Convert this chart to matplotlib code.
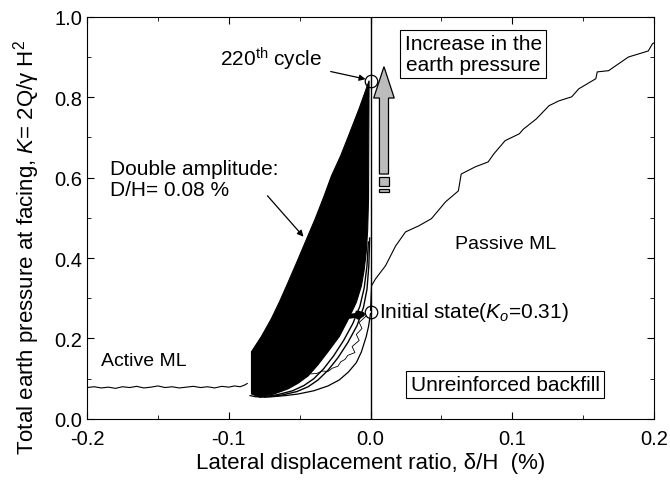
import numpy as np
import matplotlib
matplotlib.use("Agg")
import matplotlib.pyplot as plt
from matplotlib.patches import FancyArrow, Rectangle
from matplotlib.ticker import MultipleLocator

plt.rcParams['font.family'] = ['Liberation Sans', 'DejaVu Sans']
plt.rcParams['mathtext.fontset'] = 'custom'
plt.rcParams['mathtext.it'] = 'Liberation Sans:italic'
plt.rcParams['mathtext.rm'] = 'Liberation Sans'

# Active ML branch (monotonic loading toward active side)
active_x = [-0.200, -0.195, -0.190, -0.185, -0.180, -0.175, -0.170, -0.165, -0.160,
            -0.155, -0.150, -0.145, -0.140, -0.135, -0.130, -0.125, -0.120, -0.115,
            -0.110, -0.105, -0.100, -0.096, -0.092, -0.089, -0.087]
active_y = [0.078, 0.080, 0.077, 0.079, 0.076, 0.080, 0.078, 0.081, 0.077,
            0.079, 0.082, 0.078, 0.080, 0.077, 0.079, 0.081, 0.078, 0.080,
            0.077, 0.081, 0.079, 0.082, 0.080, 0.084, 0.088]

# Passive ML branch
passive_x = [0.000, 0.0007, 0.0035, 0.0106, 0.0177, 0.0247, 0.034, 0.043, 0.053,
             0.062, 0.064, 0.074, 0.083, 0.087, 0.095, 0.105, 0.108, 0.117,
             0.126, 0.133, 0.142, 0.147, 0.159, 0.160, 0.168, 0.182, 0.196, 0.199, 0.200]
passive_y = [0.270, 0.331, 0.348, 0.381, 0.430, 0.465, 0.480, 0.498, 0.540,
             0.567, 0.609, 0.627, 0.639, 0.659, 0.692, 0.709, 0.721, 0.746,
             0.779, 0.791, 0.801, 0.821, 0.846, 0.863, 0.866, 0.900, 0.915, 0.933, 0.935]

# Cyclic loops (220 cycles) - envelope of the filled region
loop_upper_x = [-0.084, -0.077, -0.070, -0.064, -0.058, -0.052, -0.046, -0.039,
                -0.033, -0.0276, -0.021, -0.0155, -0.008, -0.001]
loop_upper_y = [0.167, 0.205, 0.249, 0.293, 0.341, 0.390, 0.440, 0.498,
                0.552, 0.604, 0.655, 0.704, 0.772, 0.841]
loop_lower_x = [-0.001, -0.0012, -0.0014, -0.002, -0.003, -0.0045, -0.0064, -0.010,
                -0.0155, -0.022, -0.030, -0.037, -0.044, -0.051, -0.058, -0.068,
                -0.079, -0.084]
loop_lower_y = [0.841, 0.700, 0.547, 0.470, 0.415, 0.370, 0.331, 0.290,
                0.249, 0.205, 0.167, 0.135, 0.107, 0.089, 0.075, 0.062,
                0.055, 0.062]

# individual early loop branches
loop1_x = [-0.078, -0.066, -0.055, -0.047, -0.040, -0.033, -0.026, -0.019, -0.0125,
           -0.0075, -0.0045, -0.0025, -0.0015]
loop1_y = [0.054, 0.060, 0.070, 0.083, 0.100, 0.125, 0.157, 0.195, 0.237,
           0.280, 0.325, 0.380, 0.440]
loop2_x = [-0.075, -0.063, -0.052, -0.044, -0.037, -0.030, -0.023, -0.016, -0.0095,
           -0.005, -0.0025, -0.0012, -0.0006]
loop2_y = [0.054, 0.059, 0.068, 0.080, 0.097, 0.121, 0.152, 0.190, 0.232,
           0.277, 0.322, 0.380, 0.450]
outer_x = [0.0, -0.0005, -0.0014, -0.003, -0.0064, -0.010, -0.0155, -0.022, -0.030,
           -0.040, -0.051, -0.060, -0.070, -0.081, -0.085]
outer_y = [0.262, 0.250, 0.230, 0.205, 0.167, 0.140, 0.117, 0.097, 0.082,
           0.070, 0.062, 0.058, 0.055, 0.055, 0.058]

# first unloading from initial state (jagged)
first_x = [-0.003, -0.008, -0.006, -0.010, -0.008, -0.013, -0.011, -0.016, -0.018,
           -0.021, -0.023, -0.027, -0.030, -0.034, -0.038, -0.042]
first_y = [0.256, 0.240, 0.225, 0.210, 0.195, 0.180, 0.165, 0.158, 0.148,
           0.142, 0.131, 0.126, 0.118, 0.119, 0.113, 0.112]

peak = (0.0, 0.84)
initial = (0.0, 0.266)

fig = plt.figure(figsize=(6.70, 4.81), dpi=100)
ax = fig.add_axes([0.13, 0.127, 0.846, 0.836])

ax.plot(active_x, active_y, color='black', lw=0.8)
ax.plot(passive_x, passive_y, color='black', lw=0.8)

poly_x = np.concatenate([loop_upper_x, loop_lower_x])
poly_y = np.concatenate([loop_upper_y, loop_lower_y])
ax.fill(poly_x, poly_y, color='black', lw=0.8)
ax.plot(loop1_x, loop1_y, color='black', lw=1.0)
ax.plot(loop2_x, loop2_y, color='black', lw=1.0)
ax.plot(outer_x, outer_y, color='black', lw=0.9)
ax.plot(first_x, first_y, color='black', lw=0.6)

ax.axvline(0, color='black', lw=1.0)

# thick arrow toward initial state
ax.annotate('', xy=(-0.002, 0.262), xytext=(-0.015, 0.255),
            arrowprops=dict(arrowstyle='-|>', color='black', lw=3.5, mutation_scale=8,
                            shrinkA=0, shrinkB=0))

ax.plot(*peak, 'o', ms=9, mfc='none', mec='black', mew=0.9)
ax.plot(*initial, 'o', ms=9, mfc='none', mec='black', mew=0.9)

# gray arrow: increase in earth pressure
ax.add_patch(FancyArrow(0.0095, 0.609, 0, 0.267, width=0.0064, head_width=0.0145,
                        head_length=0.078, length_includes_head=True,
                        facecolor='#bcbcbc', edgecolor='black', lw=0.9))
ax.add_patch(Rectangle((0.0063, 0.580), 0.0064, 0.022, facecolor='#bcbcbc',
                       edgecolor='black', lw=0.9))
ax.add_patch(Rectangle((0.0063, 0.565), 0.0064, 0.007, facecolor='#bcbcbc',
                       edgecolor='black', lw=0.9))

box = dict(boxstyle='square,pad=0.2', facecolor='white', edgecolor='black', lw=0.8)
ax.text(0.0724, 0.907, 'Increase in the\nearth pressure', fontsize=15,
        ha='center', va='center', bbox=box, linespacing=1.1)
ax.text(0.095, 0.085, 'Unreinforced backfill', fontsize=15,
        ha='center', va='center', bbox=box)

ax.text(0.095, 0.435, 'Passive ML', fontsize=14, ha='center', va='center')
ax.text(-0.190, 0.145, 'Active ML', fontsize=14, ha='left', va='center')
ax.text(0.006, 0.266, 'Initial state($K_o$=0.31)', fontsize=15, ha='left', va='center')

ax.annotate('220$^{\\rm th}$ cycle', xy=(-0.0035, 0.845), xytext=(-0.106, 0.896),
            fontsize=15, ha='left', va='center',
            arrowprops=dict(arrowstyle='-|>', color='black', lw=0.9,
                            shrinkA=4, shrinkB=0, mutation_scale=9))
ax.text(-0.184, 0.597, 'Double amplitude:\nD/H= 0.08 %', fontsize=15,
        ha='left', va='center', linespacing=1.15)
ax.annotate('', xy=(-0.046, 0.448), xytext=(-0.074, 0.560),
            arrowprops=dict(arrowstyle='-|>', color='black', lw=0.9, mutation_scale=9))

ax.set_xlim(-0.2, 0.2)
ax.set_ylim(0.0, 1.0)
ax.xaxis.set_major_locator(MultipleLocator(0.1))
ax.xaxis.set_minor_locator(MultipleLocator(0.05))
ax.yaxis.set_major_locator(MultipleLocator(0.2))
ax.yaxis.set_minor_locator(MultipleLocator(0.1))
ax.tick_params(which='both', direction='in', top=True, right=True, labelsize=14.5)
ax.tick_params(which='major', length=5)
ax.tick_params(which='minor', length=3)
ax.tick_params(axis='x', pad=7)
ax.set_xticks([-0.2, -0.1, 0.0, 0.1, 0.2])
ax.set_xticklabels(['-0.2', '-0.1', '0.0', '0.1', '0.2'])
ax.set_yticks([0.0, 0.2, 0.4, 0.6, 0.8, 1.0])
ax.set_yticklabels(['0.0', '0.2', '0.4', '0.6', '0.8', '1.0'])

ax.set_xlabel('Lateral displacement ratio, δ/H  (%)', fontsize=16, labelpad=3)
ax.set_ylabel('Total earth pressure at facing, $K$= 2Q/γ H$^2$', fontsize=16)
ax.yaxis.set_label_coords(-0.079, 0.43)

fig.savefig('out.png', dpi=100)
